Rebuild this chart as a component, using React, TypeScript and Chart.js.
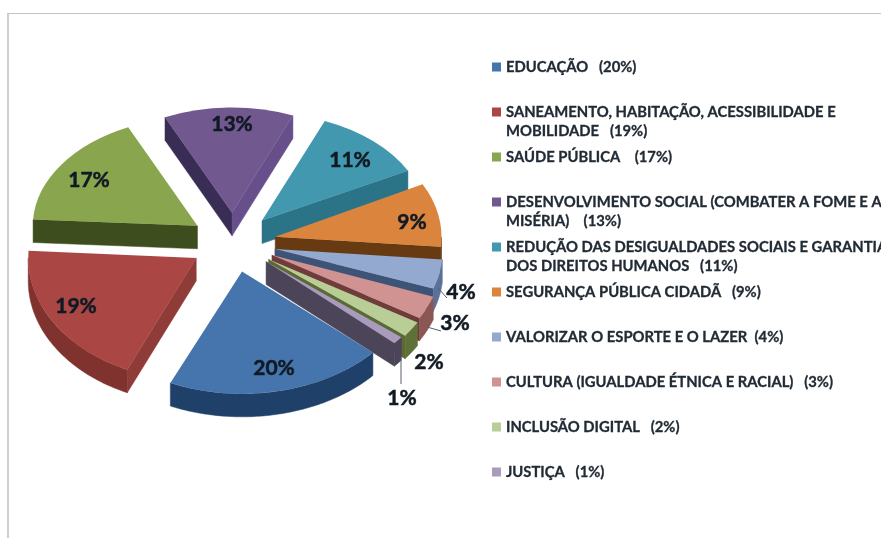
import React, { useEffect, useRef } from "react";
import { Chart, registerables } from "chart.js";

Chart.register(...registerables);

const categories = [
  "EDUCAÇÃO",
  "SANEAMENTO, HABITAÇÃO, ACESSIBILIDADE E MOBILIDADE",
  "SAÚDE PÚBLICA",
  "DESENVOLVIMENTO SOCIAL (COMBATER A FOME E A MISÉRIA)",
  "REDUÇÃO DAS DESIGUALDADES SOCIAIS E GARANTIA DOS DIREITOS HUMANOS",
  "SEGURANÇA PÚBLICA CIDADÃ",
  "VALORIZAR O ESPORTE E O LAZER",
  "CULTURA (IGUALDADE ÉTNICA E RACIAL)",
  "INCLUSÃO DIGITAL",
  "JUSTIÇA",
];
const values = [20, 19, 17, 13, 11, 9, 4, 3, 2, 1];
const topColors = ["#4675ad", "#aa4643", "#89a54e", "#71588f", "#4198af", "#db843d", "#93a9cf", "#d19392", "#b9cd96", "#a99bbd"];
const outerWallColors = ["#1f4068", "#80322f", "#3e4d1e", "#3a2d55", "#2b7488", "#6b3a10", "#5a7199", "#8b5755", "#5f7039", "#4c4459"];
const faceColors = ["#1f4068", "#8f3c39", "#3e4d1e", "#3a2d55", "#2b7488", "#673a12", "#3d5476", "#6f3c3a", "#5a6a35", "#4c4459"];
const endFaceColors = ["#1f4068", "#8f3c39", "#3e4d1e", "#674f8c", "#2b7488", "#673a12", "#3d5476", "#6f3c3a", "#5a6a35", "#4c4459"];
const radiusFactor = [1.04, 1.0, 0.98, 0.95, 0.98, 0.99, 1.0, 1.02, 1.03, 1.02];
const sliceSquash = [0.7, 0.73, 0.66, 0.66, 0.655, 0.68, 0.7, 0.72, 0.72, 0.72];
const legendLines = [
  ["EDUCAÇÃO   (20%)"],
  ["SANEAMENTO, HABITAÇÃO, ACESSIBILIDADE E", "MOBILIDADE   (19%)"],
  ["SAÚDE PÚBLICA    (17%)"],
  ["DESENVOLVIMENTO SOCIAL (COMBATER A FOME E A", "MISÉRIA)    (13%)"],
  ["REDUÇÃO DAS DESIGUALDADES SOCIAIS E GARANTIA", "DOS DIREITOS HUMANOS   (11%)"],
  ["SEGURANÇA PÚBLICA CIDADÃ   (9%)"],
  ["VALORIZAR O ESPORTE E O LAZER  (4%)"],
  ["CULTURA (IGUALDADE ÉTNICA E RACIAL)   (3%)"],
  ["INCLUSÃO DIGITAL   (2%)"],
  ["JUSTIÇA   (1%)"],
];
const legendY = [67, 112, 157, 202, 247, 292, 337, 382, 427, 472];

const RADIUS = 168;
const BASE_SQUASH = 0.69;
const DEPTH = 23;
const EXPLODE = 43;
const wallOrder = [3, 2, 4, 5, 6, 7, 8, 9, 1, 0];
const insideLabels: Record<number, [number, number]> = { 0: [274, 368], 1: [76, 306], 2: [89, 180], 3: [232, 124], 4: [350, 160], 5: [412, 222] };
const outsideLabels: Record<number, [number, number]> = { 6: [461, 292], 7: [455, 323], 8: [429, 362], 9: [402, 398] };
const leaders: [number, number, number, number][] = [
  [438, 288, 447, 298],
  [427, 327, 441, 331],
  [401, 360, 401, 384],
];

const apexOf = (el: any) => {
  const h = (el.startAngle + el.endAngle) / 2;
  return [el.x + Math.cos(h) * EXPLODE, el.y + Math.sin(h) * EXPLODE * BASE_SQUASH];
};

const pie3d = {
  id: "pie3d",
  beforeDatasetsDraw(chart: any) {
    const ctx = chart.ctx;
    const arcs = chart.getDatasetMeta(0).data;
    wallOrder.forEach((i) => {
      const el = arcs[i];
      const a0 = el.startAngle, a1 = el.endAngle;
      const R = RADIUS * radiusFactor[i];
      el.outerRadius = R;
      const [ax, ay] = apexOf(el);
      const pt = (a: number, r: number, d = 0) => [ax + r * Math.cos(a), ay + r * Math.sin(a) * sliceSquash[i] + d];
      const poly = (pts: number[][], color: string) => {
        ctx.beginPath();
        pts.forEach((p, k) => (k ? ctx.lineTo(p[0], p[1]) : ctx.moveTo(p[0], p[1])));
        ctx.closePath();
        ctx.fillStyle = color;
        ctx.strokeStyle = color;
        ctx.lineWidth = 0.5;
        ctx.fill();
        ctx.stroke();
      };
      if (Math.cos(a0) < 0) poly([pt(a0, 0), pt(a0, R), pt(a0, R, DEPTH), pt(a0, 0, DEPTH)], faceColors[i]);
      if (Math.cos(a1) > 0) poly([pt(a1, 0), pt(a1, R), pt(a1, R, DEPTH), pt(a1, 0, DEPTH)], endFaceColors[i]);
      const steps = 80;
      let run: number[] = [];
      const flush = () => {
        if (run.length > 1) {
          poly([...run.map((a) => pt(a, R)), ...run.slice().reverse().map((a) => pt(a, R, DEPTH))], outerWallColors[i]);
        }
        run = [];
      };
      for (let k = 0; k <= steps; k++) {
        const a = a0 + ((a1 - a0) * k) / steps;
        if (Math.sin(a) > 0) run.push(a);
        else flush();
      }
      flush();
    });
    // Each top face is the library's own arc element, moved out and flattened.
    wallOrder.forEach((i) => {
      const el = arcs[i];
      const [ax, ay] = apexOf(el);
      ctx.save();
      ctx.translate(ax, ay);
      ctx.scale(1, sliceSquash[i]);
      ctx.translate(-el.x, -el.y);
      el.draw(ctx);
      ctx.restore();
    });
    return false;
  },
  afterDraw(chart: any) {
    const ctx = chart.ctx;
    const arcs = chart.getDatasetMeta(0).data;
    ctx.save();
    ctx.strokeStyle = "#55606b";
    ctx.lineWidth = 1;
    leaders.forEach(([x0, y0, x1, y1]) => {
      ctx.beginPath();
      ctx.moveTo(x0, y0);
      ctx.lineTo(x1, y1);
      ctx.stroke();
    });
    ctx.fillStyle = "#111a24";
    ctx.strokeStyle = "#111a24";
    ctx.lineWidth = 0.5;
    ctx.font = 'bold 21px Lato, "Open Sans", sans-serif';
    ctx.textAlign = "center";
    ctx.textBaseline = "middle";
    arcs.forEach((_el: any, i: number) => {
      const text = values[i] + "%";
      const [x, y] = insideLabels[i] || outsideLabels[i];
      ctx.fillText(text, x, y);
      ctx.strokeText(text, x, y);
    });
    ctx.textAlign = "left";
    ctx.font = 'bold 14.8px Lato, "Open Sans", sans-serif';
    ctx.lineWidth = 0.3;
    legendLines.forEach((lines, i) => {
      const y = legendY[i];
      ctx.fillStyle = topColors[i];
      ctx.fillRect(492, y - 4.5, 9, 9);
      ctx.fillStyle = "#222b35";
      ctx.strokeStyle = "#222b35";
      lines.forEach((line, k) => {
        ctx.fillText(line, 506, y + k * 19.5);
        ctx.strokeText(line, 506, y + k * 19.5);
      });
    });
    ctx.restore();
  },
};

export default function App() {
  const ref = useRef<HTMLCanvasElement>(null);
  useEffect(() => {
    const chart = new Chart(ref.current as HTMLCanvasElement, {
      type: "pie",
      data: {
        labels: categories,
        datasets: [
          {
            data: values,
            backgroundColor: topColors,
            borderWidth: 0,
          } as any,
        ],
      },
      options: {
        responsive: false,
        animation: false,
        rotation: 131.5,
        radius: RADIUS,
        layout: { padding: { left: 0, top: 0, right: 881 - 466, bottom: 538 - 485 } },
        plugins: { legend: { display: false }, tooltip: { enabled: false } },
      } as any,
      plugins: [pie3d],
    });
    return () => chart.destroy();
  }, []);
  return (
    <div style={{ position: "fixed", left: 0, top: 0, width: 881, height: 538, background: "#fff", overflow: "hidden" }}>
      <div style={{ position: "absolute", left: 7, top: 13, width: 874, height: 525, borderTop: "1px solid #c4c4c4", borderLeft: "2px solid #cfcfcf", boxSizing: "border-box" }} />
      <canvas ref={ref} width={881} height={538} style={{ position: "absolute", left: 0, top: 0, display: "block" }} />
    </div>
  );
}
